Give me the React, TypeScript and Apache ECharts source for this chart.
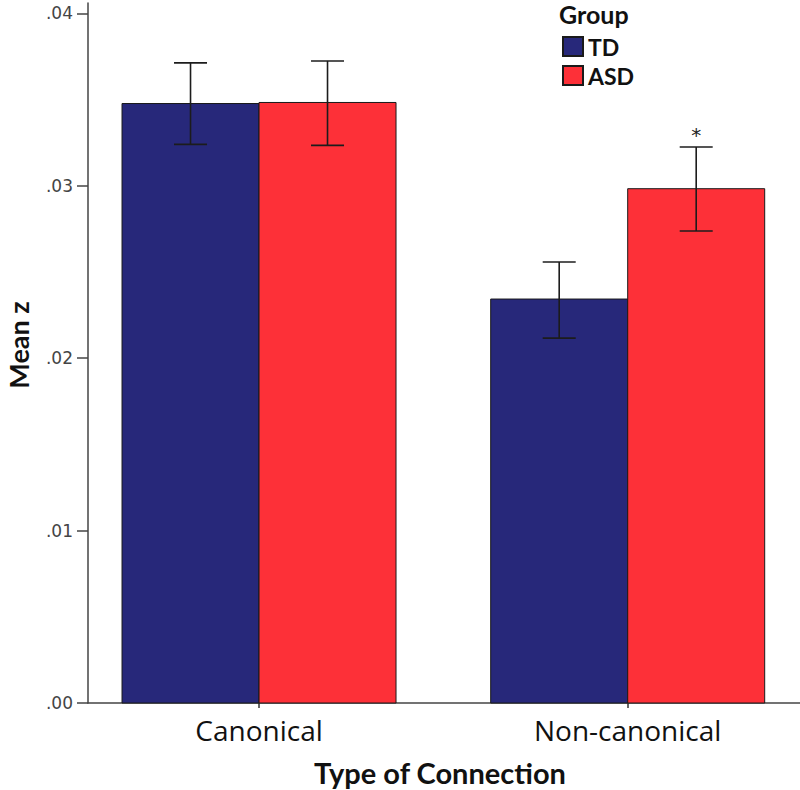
import React, { useEffect, useRef } from "react";
import * as echarts from "echarts";

// ---- data ----
const categories = ["Canonical", "Non-canonical"];
const groups = ["TD", "ASD"];
const tdMean = [0.03477, 0.02343];
const tdLower = [0.0324, 0.02116];
const tdUpper = [0.03713, 0.02558];
const asdMean = [0.03483, 0.02983];
const asdLower = [0.03234, 0.02738];
const asdUpper = [0.03724, 0.03225];
const asdSignificance = ["", "*"];
const yTicks = [0, 0.01, 0.02, 0.03, 0.04];

// ---- layout (axis units on a 0..1 horizontal scale) ----
const categoryPos = [0.2402, 0.758];
const BAR_W = 137;
const CAP_W = 33;
const colors = { TD: "#27287A", ASD: "#FD3038" };

const fmtY = (v: number) => "." + v.toFixed(2).split(".")[1];

function makeRender(side: "left" | "right", marks: string[]) {
  return (params: any, api: any) => {
    const x = api.value(0);
    const v = api.value(1);
    const lo = api.value(2);
    const hi = api.value(3);
    const base = api.coord([x, 0]);
    const top = api.coord([x, v]);
    const xl = side === "left" ? base[0] - BAR_W : base[0];
    const cx = xl + BAR_W / 2;
    const hiY = api.coord([x, hi])[1];
    const loY = api.coord([x, lo])[1];
    const lineStyle = { stroke: "#1c1c1c", lineWidth: 1.6 };
    const children: any[] = [
      {
        type: "rect",
        shape: { x: xl, y: top[1], width: BAR_W, height: base[1] - top[1] },
        style: { fill: api.visual("color"), stroke: "#1a1a1a", lineWidth: 1 },
      },
      { type: "line", shape: { x1: cx, y1: hiY, x2: cx, y2: loY }, style: lineStyle },
      { type: "line", shape: { x1: cx - CAP_W / 2, y1: hiY, x2: cx + CAP_W / 2, y2: hiY }, style: lineStyle },
      { type: "line", shape: { x1: cx - CAP_W / 2, y1: loY, x2: cx + CAP_W / 2, y2: loY }, style: lineStyle },
    ];
    const m = marks[params.dataIndex];
    if (m) {
      children.push({
        type: "text",
        style: {
          text: m,
          x: cx,
          y: hiY - 2,
          align: "center",
          verticalAlign: "bottom",
          fontSize: 20,
          fontFamily: "DejaVu Sans",
          fill: "#222",
        },
      });
    }
    return { type: "group", children };
  };
}

export default function App() {
  const ref = useRef<HTMLDivElement>(null);
  useEffect(() => {
    if (!ref.current) return;
    const chart = echarts.init(ref.current, null, { renderer: "svg" });
    const tdData = categories.map((_, i) => [categoryPos[i], tdMean[i], tdLower[i], tdUpper[i]]);
    const asdData = categories.map((_, i) => [categoryPos[i], asdMean[i], asdLower[i], asdUpper[i]]);
    chart.setOption({
      animation: false,
      backgroundColor: "#ffffff",
      grid: { left: 88, right: 0, top: 3, bottom: 87 },
      title: {
        text: "Group",
        left: 559,
        top: 1,
        padding: 0,
        textStyle: { fontFamily: "Lato", fontWeight: "bold", fontSize: 25, lineHeight: 26, color: "#111" },
      },
      legend: {
        orient: "vertical",
        left: 562,
        top: 35,
        padding: 0,
        itemWidth: 20,
        itemHeight: 19,
        itemGap: 6,
        icon: "rect",
        data: groups,
        textStyle: { fontFamily: "Lato", fontWeight: "bold", fontSize: 23, color: "#111" },
      },
      xAxis: {
        type: "value",
        min: 0,
        max: 1,
        splitLine: { show: false },
        axisLine: { show: true, lineStyle: { color: "#444", width: 1.5 } },
        axisTick: { show: true, customValues: categoryPos, length: 5, lineStyle: { color: "#333", width: 1.5 } },
        axisLabel: {
          customValues: categoryPos,
          formatter: (v: number) => {
            const i = categoryPos.findIndex((p) => Math.abs(p - v) < 1e-6);
            return i >= 0 ? categories[i] : "";
          },
          margin: 13,
          fontFamily: "Open Sans",
          fontSize: 28,
          color: "#111",
        },
      },
      yAxis: {
        type: "value",
        min: 0,
        max: 0.0406,
        splitLine: { show: false },
        axisLine: { show: true, lineStyle: { color: "#444", width: 1.5 } },
        axisTick: { show: true, customValues: yTicks, length: 11, lineStyle: { color: "#444", width: 1.5 } },
        axisLabel: {
          customValues: yTicks,
          formatter: fmtY,
          margin: 15,
          fontFamily: "DejaVu Sans",
          fontSize: 17,
          color: "#444",
        },
      },
      graphic: [
        {
          type: "text",
          x: 18,
          y: 345,
          rotation: Math.PI / 2,
          style: {
            text: "Mean z",
            align: "center",
            verticalAlign: "middle",
            fontFamily: "Lato",
            fontWeight: "bold",
            fontSize: 27,
            lineHeight: 27,
            fill: "#111",
          },
        },
        {
          type: "text",
          x: 440,
          y: 772,
          style: {
            text: "Type of Connection",
            align: "center",
            verticalAlign: "middle",
            fontFamily: "Lato",
            fontWeight: "bold",
            fontSize: 29,
            fill: "#111",
          },
        },
      ],
      series: [
        {
          name: "TD",
          type: "custom",
          itemStyle: { color: colors.TD, borderColor: "#1a1a1a", borderWidth: 1 },
          encode: { x: 0, y: 1 },
          clip: false,
          renderItem: makeRender("left", ["", ""]),
          data: tdData,
        },
        {
          name: "ASD",
          type: "custom",
          itemStyle: { color: colors.ASD, borderColor: "#1a1a1a", borderWidth: 1 },
          encode: { x: 0, y: 1 },
          clip: false,
          renderItem: makeRender("right", asdSignificance),
          data: asdData,
        },
      ],
    });
    return () => chart.dispose();
  }, []);
  return (
    <div
      ref={ref}
      style={{ position: "absolute", left: 0, top: 0, width: 800, height: 790 }}
    />
  );
}
